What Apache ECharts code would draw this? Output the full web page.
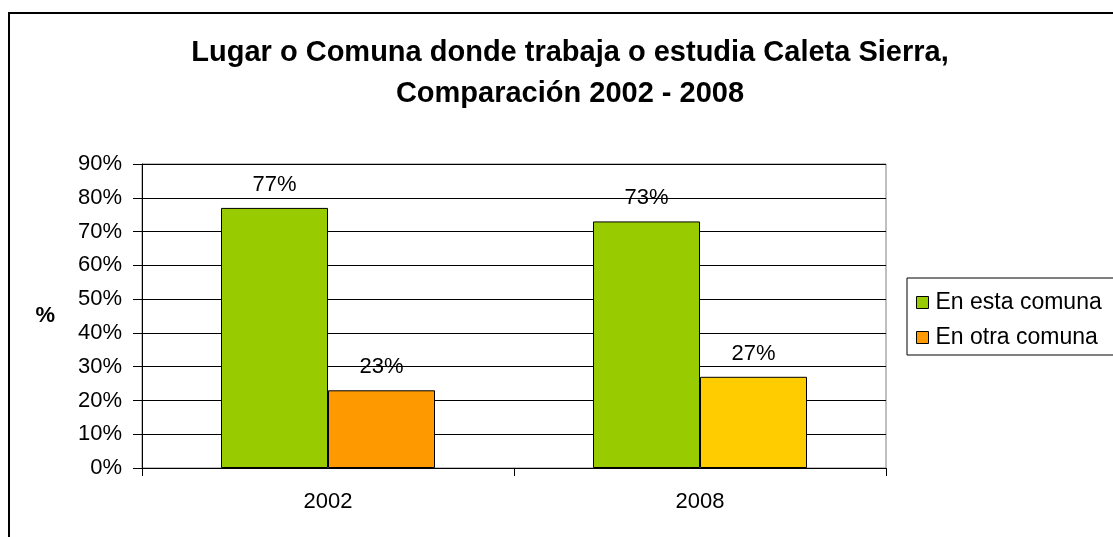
<!DOCTYPE html>
<html>
<head>
<meta charset="utf-8">
<script src="https://cdn.jsdelivr.net/npm/echarts@6/dist/echarts.min.js"></script>
<style>
  html, body { margin: 0; padding: 0; background: #fff; }
  #chart { width: 1113px; height: 537px; }
</style>
</head>
<body>
<div id="chart"></div>
<script>
// data
const years = ['2002', '2008']
const enEstaComuna = [77, 73]
const enOtraComuna = [23, 27]
const seriesNames = ['En esta comuna', 'En otra comuna']

const font = 'Arial, "Liberation Sans", sans-serif'
const chart = echarts.init(document.getElementById('chart'), null, { renderer: 'canvas' })

const labelStyle = {
  show: true,
  position: 'top',
  distance: 12,
  formatter: '{c}%',
  fontFamily: font,
  fontSize: 22,
  color: '#000'
}

const option = {
  animation: false,
  backgroundColor: '#fff',
  title: {
    text: 'Lugar o Comuna donde trabaja o estudia Caleta Sierra,\nComparación 2002 - 2008',
    left: 570,
    top: 32,
    padding: 0,
    textAlign: 'center',
    textStyle: {
      fontFamily: font,
      fontSize: 29,
      fontWeight: 'bold',
      color: '#000',
      lineHeight: 41
    }
  },
  legend: {
    orient: 'vertical',
    left: 907,
    top: 278,
    padding: [13, 14, 6, 9],
    itemGap: 12,
    itemWidth: 12,
    itemHeight: 12,
    icon: 'rect',
    borderColor: '#000',
    borderWidth: 1,
    borderRadius: 0,
    itemStyle: { borderColor: '#000', borderWidth: 1 },
    textStyle: { fontFamily: font, fontSize: 23, color: '#000', padding: [0, 0, 0, 2] },
    data: seriesNames
  },
  grid: {
    left: 142,
    top: 164,
    right: 227,
    bottom: 69,
    show: true,
    borderColor: '#808080',
    borderWidth: 1
  },
  xAxis: {
    type: 'category',
    data: years,
    axisLine: { show: true, lineStyle: { color: '#000', width: 1 } },
    axisTick: { show: true, length: 8, lineStyle: { color: '#000' } },
    axisLabel: { margin: 23, fontFamily: font, fontSize: 22, color: '#000' }
  },
  yAxis: {
    type: 'value',
    min: 0,
    max: 90,
    interval: 10,
    name: '%',
    nameLocation: 'middle',
    nameGap: 87,
    nameRotate: 0,
    nameTextStyle: { fontFamily: font, fontSize: 22, fontWeight: 'bold', color: '#000' },
    axisLine: { show: true, lineStyle: { color: '#000', width: 1 } },
    axisTick: { show: true, length: 9, lineStyle: { color: '#000' } },
    axisLabel: { formatter: '{value}%', margin: 20, fontFamily: font, fontSize: 22, color: '#000' },
    splitLine: { show: true, lineStyle: { color: '#000', width: 1 } }
  },
  series: [
    {
      name: seriesNames[0],
      type: 'bar',
      data: enEstaComuna,
      barWidth: 107,
      barGap: '0%',
      itemStyle: { color: '#99CC00', borderColor: '#000', borderWidth: 1 },
      label: labelStyle
    },
    {
      name: seriesNames[1],
      type: 'bar',
      data: enOtraComuna.map((v, i) => i === 1
        ? { value: v, itemStyle: { color: '#FFCC00' } }
        : v),
      barWidth: 107,
      barGap: '0%',
      itemStyle: { color: '#FF9900', borderColor: '#000', borderWidth: 1 },
      label: labelStyle
    }
  ],
  graphic: [
    {
      type: 'rect',
      shape: { x: 9, y: 13, width: 1130, height: 540 },
      style: { fill: null, stroke: '#000', lineWidth: 2 },
      silent: true
    }
  ]
}

chart.setOption(option)
</script>
</body>
</html>
